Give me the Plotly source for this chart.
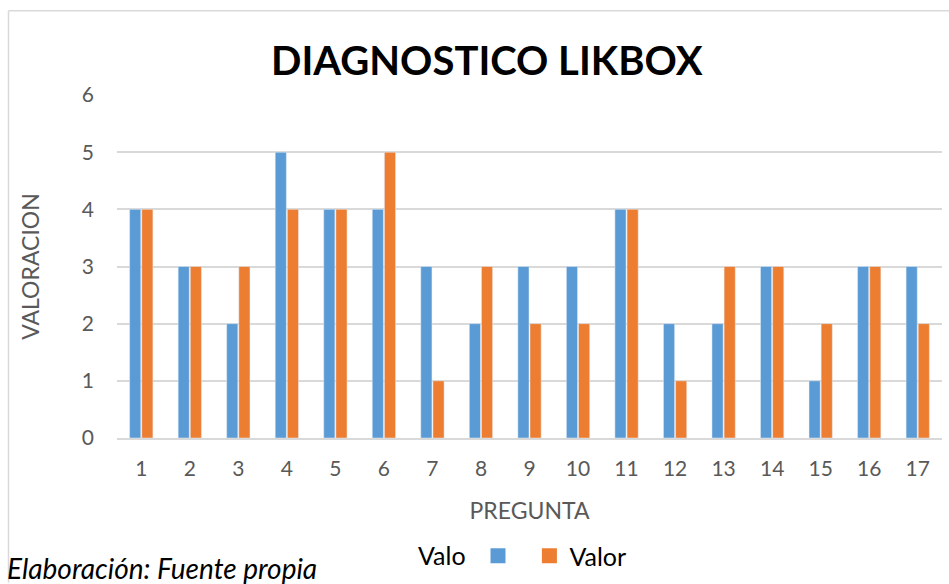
import plotly.graph_objects as go

preguntas = [str(i) for i in range(1, 18)]
valo = [4, 3, 2, 5, 4, 4, 3, 2, 3, 3, 4, 2, 2, 3, 1, 3, 3]
valor = [4, 3, 3, 4, 4, 5, 1, 3, 2, 2, 4, 1, 3, 3, 2, 3, 2]

BLUE, ORANGE = "#5b9bd5", "#ed7d31"
FONT = "Lato"
fig = go.Figure()
fig.add_bar(x=preguntas, y=valo, name="Valo", marker_color=BLUE, showlegend=False)
fig.add_bar(x=preguntas, y=valor, name="Valor", marker_color=ORANGE, showlegend=False)
# legend entries
fig.add_scatter(x=[None], y=[None], mode="markers", name=" ",
                marker=dict(symbol="square", size=15, color=BLUE))
fig.add_scatter(x=[None], y=[None], mode="markers", name="Valor",
                marker=dict(symbol="square", size=15, color=ORANGE))

L, T, W, H = 117, 95, 825, 344
def px(p):
    return (p - L) / W
def py(p):
    return (T + H - p) / H

fig.update_layout(
    width=949, height=584,
    margin=dict(l=L, r=949 - L - W, t=T, b=584 - T - H),
    paper_bgcolor="white", plot_bgcolor="white",
    font=dict(family=FONT, color="#595959"),
    barmode="group", bargap=0.5, bargroupgap=0.08,
    title=dict(text="<b>DIAGNOSTICO LIKBOX</b>", x=0.513, xanchor="center",
               y=1 - 61 / 584, yanchor="middle",
               font=dict(family=FONT, size=40, color="black")),
    xaxis=dict(title=dict(text="PREGUNTA", font=dict(size=23, color="#595959"), standoff=24),
               tickfont=dict(size=21, color="#595959"), showline=True, linecolor="#d9d9d9",
               linewidth=1.5, ticks="", showgrid=False, ticklabelstandoff=11),
    yaxis=dict(title=dict(text="VALORACION", font=dict(size=23, color="#595959"), standoff=35),
               range=[0, 6], dtick=1, tickfont=dict(size=21, color="#595959"),
               gridcolor="#d9d9d9", gridwidth=1.5, zeroline=False, ticks="",
               ticklabelstandoff=22),
    showlegend=True,
    legend=dict(orientation="h", x=px(478), xanchor="left", y=py(556), yanchor="middle",
                font=dict(size=25, color="black"), itemwidth=30, traceorder="normal"),
    annotations=[
        dict(text="Valo", x=px(416), y=py(556), xref="paper", yref="paper", xanchor="left",
             yanchor="middle", showarrow=False, font=dict(size=25, color="black", family=FONT)),
        dict(text="<i>Elaboración: Fuente propia</i>", x=px(5), y=py(569), xref="paper",
             yref="paper", xanchor="left", yanchor="middle", showarrow=False,
             font=dict(size=28, color="black", family=FONT)),
    ],
    shapes=[
        dict(type="line", xref="paper", yref="paper", x0=px(8.5), x1=px(949), y0=py(10.5), y1=py(10.5),
             line=dict(color="#d9d9d9", width=1.5)),
        dict(type="line", xref="paper", yref="paper", x0=px(8.5), x1=px(8.5), y0=py(10.5), y1=py(584),
             line=dict(color="#d9d9d9", width=1.5)),
    ],
)
fig.write_html("out.html", config={"displayModeBar": False},
               post_script="document.body.style.margin='0';document.body.style.overflow='hidden';")
